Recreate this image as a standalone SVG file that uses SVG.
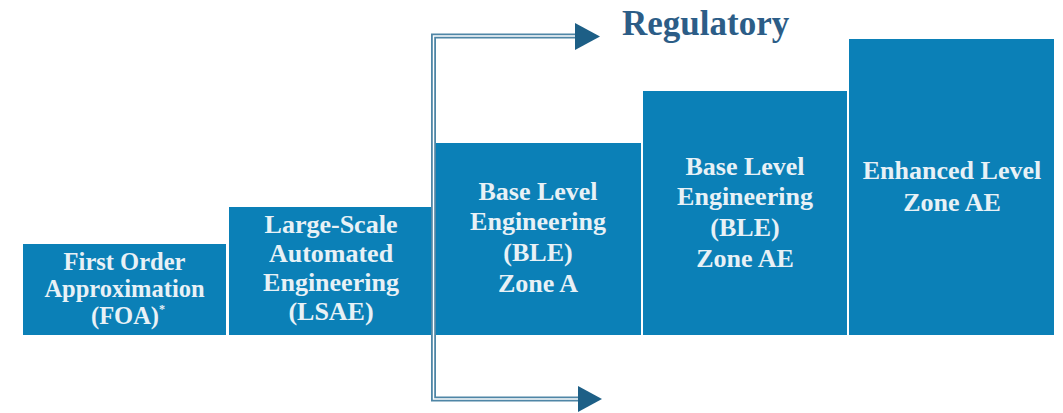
<svg xmlns="http://www.w3.org/2000/svg" width="1063" height="413" viewBox="0 0 1063 413">
<style>
.box{fill:#0b80b7}
.lbl{font-family:"Liberation Serif","Times New Roman",serif;font-weight:bold;font-size:26px;fill:#e8f1f6;text-anchor:middle}
.title{font-family:"Liberation Serif","Times New Roman",serif;font-weight:bold;font-size:35px;fill:#2c5d87}
.outer{fill:none;stroke:#4f86a6;stroke-width:5}
.inner{fill:none;stroke:#ffffff;stroke-width:1.4}
.head{fill:#1d5f86}
</style>
<rect width="1063" height="413" fill="#ffffff"/>
<g id="foa">
<rect class="box" x="23" y="244" width="203" height="91"/>
<text class="lbl" style="font-size:24.5px"><tspan x="124.5" y="270">First Order</tspan><tspan x="124.5" y="297">Approximation</tspan><tspan x="128" y="324">(FOA)<tspan style="font-size:12px" dy="-11">*</tspan></tspan></text>
</g>
<g id="lsae">
<rect class="box" x="229" y="207" width="203" height="128"/>
<text class="lbl"><tspan x="331" y="233">Large-Scale</tspan><tspan x="331" y="262">Automated</tspan><tspan x="331" y="291">Engineering</tspan><tspan x="331" y="320">(LSAE)</tspan></text>
</g>
<g id="ble-a">
<rect class="box" x="436" y="143" width="205" height="192"/>
<text class="lbl"><tspan x="538" y="200">Base Level</tspan><tspan x="538" y="230">Engineering</tspan><tspan x="538" y="261">(BLE)</tspan><tspan x="538" y="292">Zone A</tspan></text>
</g>
<g id="ble-ae">
<rect class="box" x="643" y="91" width="204" height="244"/>
<text class="lbl"><tspan x="745" y="175">Base Level</tspan><tspan x="745" y="205">Engineering</tspan><tspan x="745" y="236">(BLE)</tspan><tspan x="745" y="267">Zone AE</tspan></text>
</g>
<g id="enhanced">
<rect class="box" x="849" y="39" width="205" height="296"/>
<text class="lbl"><tspan x="952" y="179">Enhanced Level</tspan><tspan x="952" y="211">Zone AE</tspan></text>
</g>
<g id="regulatory">
<text class="title" x="622" y="35">Regulatory</text>
</g>
<g id="connectors">
<path class="outer" d="M578 36H433.5V399H580"/>
<path class="inner" d="M578 36H433.5V399H580"/>
<polygon class="head" points="575,23 600,36.5 575,50"/>
<polygon class="head" points="578,386 602,399 578,412"/>
</g>
</svg>
